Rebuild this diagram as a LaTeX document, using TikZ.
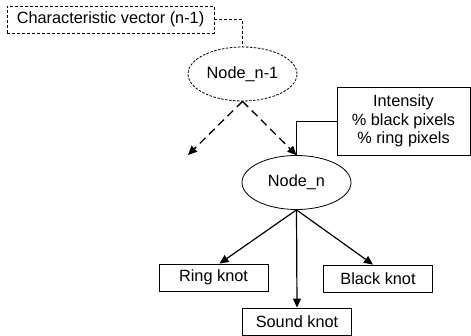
\documentclass[tikz,border=0pt]{standalone}
\usepackage{fontspec}
\setmainfont{Liberation Sans}
\usetikzlibrary{arrows.meta}
\usetikzlibrary{shapes.geometric}
\usetikzlibrary{positioning}

\begin{document}
\begin{tikzpicture}[x=1pt,y=-1pt,>={Triangle[length=9pt,width=8pt]},
                    font=\fontsize{16.3}{18.5}\selectfont]
  \useasboundingbox (0,0) rectangle (471,336);
  \tikzstyle{knot}=[draw, rectangle, inner sep=0pt, minimum width=109pt, minimum height=27pt, line width=0.8pt]
  \tikzstyle{nd}=[draw, ellipse, inner sep=0pt, minimum width=109pt, minimum height=54pt, line width=0.8pt]
  \tikzstyle{fine dash}=[dash pattern=on 3pt off 2pt]
  \tikzstyle{long dash}=[dash pattern=on 8pt off 5pt, line width=1.3pt]
  % previous level
  \node[knot, fine dash, minimum width=207pt] (cv) at (110.5,19.5) {Characteristic vector (n-1)};
  \node[nd, fine dash, dash pattern=on 2.5pt off 1.5pt] (nprev) at (242.5,74) {Node\_n-1};
  \coordinate (other) at (188,155);
  % current level
  \node[knot, minimum width=133pt, minimum height=68pt, align=center] (feat) at (403.5,121)
       {Intensity\\\% black pixels\\\% ring pixels};
  \node[nd] (ncur) at (296.5,182.5) {Node\_n};
  \node[knot] (ring)  at (213.5,277.5) {Ring knot};
  \node[knot] (black) at (378,278.5) {Black knot};
  \node[knot] (sound) at (297,321.5) {Sound knot};
  \draw[fine dash, line width=0.8pt] (cv.east) -| (nprev.north);
  \draw[line width=0.8pt] (feat.west) -| (ncur.north);
  \draw[->, long dash] (nprev.south) -- (other);
  \draw[->, long dash] (nprev.south) -- (ncur.north);
  \path[->, line width=1.2pt] (ncur.south) edge ([xshift=6pt]ring.north)
                                           edge (sound.north)
                                           edge ([xshift=-5pt]black.north);
\end{tikzpicture}
\end{document}
